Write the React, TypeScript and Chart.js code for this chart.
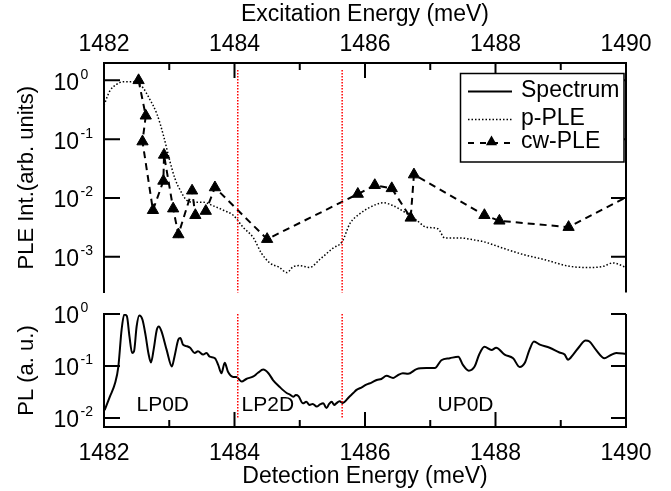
import React, { useEffect, useRef } from 'react';
import { Chart, registerables } from 'chart.js';

Chart.register(...registerables);

const NUM_FONT = "'Liberation Sans', Arial, sans-serif";
const TXT_FONT = "'Liberation Sans', Arial, sans-serif";

// ---- axis ticks ----
const energyTickLabels = [1482, 1484, 1486, 1488, 1490];
const energyTickAll = [1482, 1483, 1484, 1485, 1486, 1487, 1488, 1489, 1490];
const pleDecades = [1, 0.1, 0.01, 0.001];
const plDecades = [1, 0.1, 0.01];

// ---- p-PLE (dotted) ----
const pPleEnergy = [
  1482.0, 1482.09, 1482.19, 1482.3, 1482.4, 1482.5, 1482.6, 1482.7, 1482.81, 1482.91,
  1483.01, 1483.09, 1483.16, 1483.27, 1483.37, 1483.52, 1483.67, 1483.83, 1483.98, 1484.13,
  1484.29, 1484.41, 1484.54, 1484.69, 1484.8, 1484.9, 1485.0, 1485.15, 1485.31, 1485.51,
  1485.65, 1485.77, 1485.92, 1486.07, 1486.28, 1486.43, 1486.58, 1486.79, 1486.94, 1487.12,
  1487.22, 1487.45, 1487.66, 1487.81, 1488.11, 1488.42, 1488.73, 1489.14, 1489.44, 1489.65,
  1489.8, 1490.0,
];
const pPleIntensity = [
  0.38, 0.66, 0.85, 0.95, 0.95, 0.91, 0.74, 0.48, 0.27, 0.117,
  0.042, 0.021, 0.0141, 0.0091, 0.0085, 0.0085, 0.0074, 0.0062, 0.0051, 0.0032,
  0.0021, 0.00117, 0.00079, 0.00066, 0.00054, 0.00068, 0.00071, 0.00066, 0.00091, 0.00141,
  0.00182, 0.0037, 0.0054, 0.0069, 0.0083, 0.0074, 0.006, 0.0042, 0.0032, 0.003,
  0.0021, 0.0021, 0.00195, 0.00182, 0.00141, 0.0011, 0.00091, 0.00069, 0.00066, 0.00069,
  0.00079, 0.00066,
];

// ---- cw-PLE (dashed + triangles) ----
const cwEnergy = [
  1482.53, 1482.64, 1482.59, 1482.75, 1482.91, 1482.92, 1483.06, 1483.14, 1483.35, 1483.4,
  1483.56, 1483.7, 1484.5, 1485.89, 1486.15, 1486.41, 1486.7, 1486.75, 1487.83, 1488.06,
  1489.12, 1490.3,
];
const cwIntensity = [
  1.0, 0.25, 0.091, 0.0062, 0.0195, 0.054, 0.0066, 0.0024, 0.0133, 0.0051,
  0.006, 0.0151, 0.002, 0.0117, 0.0165, 0.0146, 0.0046, 0.025, 0.0051, 0.0041,
  0.0032, 0.0153,
];

// ---- PL spectrum (solid) ----
const specEnergy = [
  1482.01, 1482.09, 1482.17, 1482.22, 1482.27, 1482.31, 1482.35, 1482.39, 1482.43, 1482.46,
  1482.5, 1482.54, 1482.59, 1482.64, 1482.68, 1482.72, 1482.76, 1482.81, 1482.84, 1482.88,
  1482.96, 1483.04, 1483.08, 1483.14, 1483.17, 1483.21, 1483.27, 1483.32, 1483.39, 1483.44,
  1483.52, 1483.57, 1483.62, 1483.7, 1483.75, 1483.8, 1483.85, 1483.9, 1483.98, 1484.03,
  1484.11, 1484.18, 1484.29, 1484.36, 1484.44, 1484.52, 1484.59, 1484.69, 1484.8, 1484.85,
  1484.9, 1484.94, 1484.98, 1485.05, 1485.1, 1485.15, 1485.2, 1485.26, 1485.31, 1485.36,
  1485.41, 1485.45, 1485.49, 1485.53, 1485.56, 1485.61, 1485.66, 1485.76, 1485.82, 1485.87,
  1485.95, 1486.02, 1486.1, 1486.18, 1486.25, 1486.33, 1486.43, 1486.5, 1486.58, 1486.66,
  1486.79, 1486.94, 1487.07, 1487.17, 1487.3, 1487.43, 1487.5, 1487.59, 1487.68, 1487.75,
  1487.83, 1487.94, 1488.01, 1488.14, 1488.27, 1488.37, 1488.45, 1488.52, 1488.59, 1488.68,
  1488.83, 1488.98, 1489.06, 1489.11, 1489.19, 1489.29, 1489.38, 1489.44, 1489.54, 1489.67,
  1489.75, 1489.85, 1490.0,
];
const specIntensity = [
  0.0141, 0.0257, 0.0468, 0.0977, 0.501, 0.977, 0.912, 0.372, 0.178, 0.191,
  0.575, 0.933, 0.776, 0.372, 0.178, 0.117, 0.204, 0.501, 0.575, 0.468,
  0.204, 0.0977, 0.151, 0.324, 0.347, 0.257, 0.24, 0.224, 0.178, 0.191,
  0.166, 0.178, 0.151, 0.141, 0.105, 0.0724, 0.115, 0.0776, 0.0617, 0.0617,
  0.0501, 0.0562, 0.0631, 0.0741, 0.0851, 0.0724, 0.0537, 0.0398, 0.0302, 0.0282,
  0.0257, 0.0275, 0.0263, 0.0191, 0.0204, 0.0178, 0.0186, 0.0166, 0.0182, 0.0191,
  0.0155, 0.0186, 0.0204, 0.0178, 0.0191, 0.0209, 0.0195, 0.0257, 0.0302, 0.0347,
  0.0389, 0.0437, 0.0479, 0.0537, 0.0562, 0.0646, 0.0589, 0.0661, 0.0724, 0.0708,
  0.0871, 0.0912, 0.0912, 0.129, 0.141, 0.151, 0.105, 0.0813, 0.0977, 0.166,
  0.234, 0.204, 0.224, 0.166, 0.141, 0.0955, 0.115, 0.204, 0.295, 0.257,
  0.224, 0.182, 0.166, 0.132, 0.166, 0.24, 0.309, 0.295, 0.204, 0.141,
  0.158, 0.178, 0.17,
];

// ---- red marker lines ----
const markerEnergies = [1484.05, 1485.65];
const markerTopRange = [1.5, 0.0001];
const markerBottomRange = [1.0, 0.01];

// ---- text ----
const legendLabels = ['Spectrum', 'p-PLE', 'cw-PLE'];
const regionNames = ['LP0D', 'LP2D', 'UP0D'];
const regionEnergies = [1482.9, 1484.51, 1487.54];
const regionLevel = 0.0178;

const toXY = (xs: number[], ys: number[]) => xs.map((x, i) => ({ x, y: ys[i] }));

function framePlugin(name: string, xTop: boolean) {
  return {
    id: 'frame-' + name,
    afterDraw(chart: any) {
      const { ctx, chartArea: a } = chart;
      const xs = chart.scales.x;
      const ys = chart.scales.y;
      ctx.save();
      ctx.setLineDash([]);
      ctx.strokeStyle = '#000';
      ctx.lineWidth = 2;
      ctx.beginPath();
      ctx.moveTo(a.right, xTop ? a.top - 1 : a.top);
      ctx.lineTo(a.right, xTop ? a.bottom : a.bottom + 1);
      ctx.stroke();
      for (const t of xs.ticks) {
        const px = xs.getPixelForValue(t.value);
        const len = energyTickLabels.includes(t.value) ? 15 : 7;
        ctx.beginPath();
        if (xTop) {
          ctx.moveTo(px, a.top);
          ctx.lineTo(px, a.top + len);
        } else {
          ctx.moveTo(px, a.bottom);
          ctx.lineTo(px, a.bottom - len);
        }
        ctx.stroke();
      }
      for (const t of ys.ticks) {
        const py = ys.getPixelForValue(t.value);
        ctx.beginPath();
        ctx.moveTo(a.left, py);
        ctx.lineTo(a.left + 16, py);
        ctx.moveTo(a.right, py);
        ctx.lineTo(a.right - 15, py);
        ctx.stroke();
        const exp = Math.round(Math.log10(t.value));
        ctx.fillStyle = '#000';
        ctx.textBaseline = 'middle';
        ctx.font = `23px ${NUM_FONT}`;
        ctx.textAlign = 'right';
        ctx.fillText('10', 79, py + 3);
        ctx.font = `14px ${NUM_FONT}`;
        ctx.textAlign = 'left';
        ctx.fillText(String(exp), 80.5, py - 5.5);
      }
      ctx.restore();
    },
  };
}

const legendPlugin = {
  id: 'customLegend',
  afterDraw(chart: any) {
    const { ctx } = chart;
    ctx.save();
    ctx.fillStyle = '#fff';
    ctx.fillRect(460.5, 73.5, 163.5, 88.5);
    ctx.strokeStyle = '#000';
    ctx.lineWidth = 1.5;
    ctx.setLineDash([]);
    ctx.strokeRect(460.5, 73.5, 163.5, 88.5);
    const rows = [91.5, 119.5, 143];
    ctx.lineWidth = 2;
    ctx.beginPath();
    ctx.moveTo(468, rows[0]);
    ctx.lineTo(512, rows[0]);
    ctx.stroke();
    ctx.lineWidth = 1.5;
    ctx.setLineDash([1.5, 2]);
    ctx.beginPath();
    ctx.moveTo(468, rows[1]);
    ctx.lineTo(512, rows[1]);
    ctx.stroke();
    ctx.lineWidth = 2;
    ctx.setLineDash([6, 6]);
    ctx.beginPath();
    ctx.moveTo(468, rows[2]);
    ctx.lineTo(512, rows[2]);
    ctx.stroke();
    ctx.setLineDash([]);
    ctx.fillStyle = '#000';
    const tx = 491.5;
    const ty = rows[2] - 1;
    ctx.beginPath();
    ctx.moveTo(tx, ty - 6.5);
    ctx.lineTo(tx + 5.6, ty + 3.3);
    ctx.lineTo(tx - 5.6, ty + 3.3);
    ctx.closePath();
    ctx.fill();
    ctx.font = `23px ${TXT_FONT}`;
    ctx.textAlign = 'left';
    ctx.textBaseline = 'middle';
    legendLabels.forEach((l, i) => ctx.fillText(l, 521, rows[i] - 1));
    ctx.restore();
  },
};

const regionPlugin = {
  id: 'regions',
  afterDraw(chart: any) {
    const { ctx } = chart;
    const xs = chart.scales.x;
    const ys = chart.scales.y;
    ctx.save();
    ctx.fillStyle = '#000';
    ctx.font = `21px ${TXT_FONT}`;
    ctx.textAlign = 'center';
    ctx.textBaseline = 'middle';
    regionNames.forEach((n, i) => {
      ctx.fillText(n, xs.getPixelForValue(regionEnergies[i]), ys.getPixelForValue(regionLevel));
    });
    ctx.restore();
  },
};

function xScale(position: 'top' | 'bottom', title: string, height: number, tickPad: number, titlePad: any) {
  return {
    type: 'linear',
    position,
    min: 1482,
    max: 1490,
    grid: { display: false, drawTicks: false },
    border: { display: true, color: '#000', width: 2 },
    afterBuildTicks: (s: any) => {
      s.ticks = energyTickAll.map((v) => ({ value: v }));
    },
    ticks: {
      autoSkip: false,
      maxRotation: 0,
      padding: tickPad,
      color: '#000',
      font: { family: NUM_FONT, size: 23 },
      callback: (v: any) => (energyTickLabels.includes(Number(v)) ? String(v) : ''),
    },
    title: {
      display: true,
      text: title,
      color: '#000',
      font: { family: TXT_FONT, size: 23 },
      padding: titlePad,
    },
    afterFit: (s: any) => {
      s.height = height;
    },
  };
}

function yScale(min: number, max: number, decades: number[], title: string) {
  return {
    type: 'logarithmic',
    position: 'left',
    min,
    max,
    grid: { display: false, drawTicks: false },
    border: { display: true, color: '#000', width: 2 },
    afterBuildTicks: (s: any) => {
      s.ticks = decades.map((v) => ({ value: v }));
    },
    ticks: { display: false },
    title: {
      display: true,
      text: title,
      color: '#000',
      font: { family: TXT_FONT, size: 22 },
      padding: { top: 14, bottom: 0 },
    },
    afterFit: (s: any) => {
      s.width = 104;
    },
  };
}

export default function App() {
  const topRef = useRef<HTMLCanvasElement>(null);
  const botRef = useRef<HTMLCanvasElement>(null);

  useEffect(() => {
    const common = {
      responsive: false,
      animation: false,
      events: [],
      plugins: { legend: { display: false }, tooltip: { enabled: false } },
      elements: { line: { tension: 0 } },
    };

    const redSets = (range: number[]) =>
      markerEnergies.map((e) => ({
        data: range.map((y) => ({ x: e, y })),
        borderColor: '#ff0000',
        borderWidth: 1.5,
        borderDash: [1.5, 1.5],
        pointRadius: 0,
      }));

    const top = new Chart(topRef.current as HTMLCanvasElement, {
      type: 'line',
      data: {
        datasets: [
          ...redSets(markerTopRange),
          {
            data: toXY(pPleEnergy, pPleIntensity),
            borderColor: '#000',
            borderWidth: 1.5,
            borderDash: [1.5, 2],
            pointRadius: 0,
            cubicInterpolationMode: 'monotone',
          },
          {
            data: toXY(cwEnergy, cwIntensity),
            borderColor: '#000',
            borderWidth: 2,
            borderDash: [7, 5],
            pointStyle: 'triangle',
            pointRadius: 6.5,
            pointBackgroundColor: '#000',
            pointBorderColor: '#000',
            pointBorderWidth: 1,
          },
        ],
      } as any,
      options: {
        ...common,
        layout: { padding: { left: 0, right: 45, top: 0, bottom: 3 } },
        scales: {
          x: xScale('top', 'Excitation Energy (meV)', 63, 5, { top: 1, bottom: 0 }),
          y: yScale(2.48e-4, 1.97, pleDecades, 'PLE Int.(arb. units)'),
        },
      } as any,
      plugins: [framePlugin('top', true), legendPlugin] as any,
    });

    const bot = new Chart(botRef.current as HTMLCanvasElement, {
      type: 'line',
      data: {
        datasets: [
          ...redSets(markerBottomRange),
          {
            data: toXY(specEnergy, specIntensity),
            borderColor: '#000',
            borderWidth: 2,
            pointRadius: 0,
            cubicInterpolationMode: 'monotone',
          },
        ],
      } as any,
      options: {
        ...common,
        layout: { padding: { left: 0, right: 45, top: 14, bottom: 0 } },
        scales: {
          x: xScale('bottom', 'Detection Energy (meV)', 64, 13, { top: 0, bottom: 1 }),
          y: yScale(0.0067, 1, plDecades, 'PL (a. u.)'),
        },
      } as any,
      plugins: [framePlugin('bottom', false), regionPlugin] as any,
    });

    return () => {
      top.destroy();
      bot.destroy();
    };
  }, []);

  return (
    <div style={{ position: 'absolute', left: 0, top: 0, width: 671, height: 491, background: '#fff' }}>
      <canvas
        ref={topRef}
        width={671}
        height={300}
        style={{ position: 'absolute', left: 0, top: 0, width: 671, height: 300 }}
      />
      <canvas
        ref={botRef}
        width={671}
        height={191}
        style={{ position: 'absolute', left: 0, top: 300, width: 671, height: 191 }}
      />
    </div>
  );
}
